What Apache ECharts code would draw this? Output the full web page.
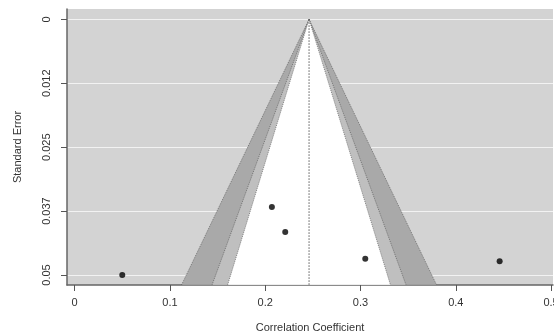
<!DOCTYPE html>
<html>
<head>
<meta charset="utf-8">
<script src="https://cdn.jsdelivr.net/npm/echarts@6/dist/echarts.min.js"></script>
<style>
  html, body { margin: 0; padding: 0; background: #fff; }
  #fig_funnel { width: 554px; height: 334px; }
</style>
</head>
<body>
<div id="fig_funnel"></div>
<script>
// study effect sizes (correlation) and their standard errors
var rValues  = [0.050, 0.207, 0.221, 0.305, 0.446];
var seValues = [0.0500, 0.0367, 0.0416, 0.0468, 0.0473];

// pooled estimate and funnel bottom
var estimate = 0.246;
var seMax = 0.0519;

// contour levels: 99%, 95%, 90% (outer first)
var zLevels = [2.576, 1.96, 1.645];
var shades = ['#a9a9a9', '#bfbfbf', '#ffffff'];

// tick values and labels
var xTicks = [0, 0.1, 0.2, 0.3, 0.4, 0.5];
var yTicks = [0, 0.0125, 0.025, 0.0375, 0.05];
var yTickLabels = ['0', '0.012', '0.025', '0.037', '0.05'];

var fig_funnel = {
    plot_id: 'fig_funnel',
    plot_chart: null,

    render_funnel: function(params, api) {
        var z = api.value(0);
        var idx = api.value(1);
        var top = api.coord([estimate, 0]);
        var bl = api.coord([estimate - z * seMax, seMax]);
        var br = api.coord([estimate + z * seMax, seMax]);
        var edge = {
            stroke: '#4a4a4a',
            lineWidth: 0.6,
            lineDash: [1, 1],
            fill: null
        };
        return {
            type: 'group',
            children: [
                {
                    type: 'polygon',
                    shape: { points: [top, bl, br] },
                    style: { fill: shades[idx], stroke: null }
                },
                { type: 'polyline', shape: { points: [bl, top] }, style: edge },
                { type: 'polyline', shape: { points: [top, br] }, style: edge }
            ]
        };
    },

    render_center: function(params, api) {
        var a = api.coord([estimate, 0]);
        var b = api.coord([estimate, seMax]);
        return {
            type: 'line',
            shape: { x1: a[0], y1: a[1], x2: b[0], y2: b[1] },
            style: { stroke: '#111', lineWidth: 0.7, lineDash: [1.5, 1.5] }
        };
    },

    init: function() {
        var font = '"Liberation Sans", Arial, sans-serif';
        this.option = {
            animation: false,
            grid: {
                left: 67,
                top: 9,
                width: 486,
                height: 276,
                outerBoundsMode: 'none',
                containLabel: false,
                show: true,
                backgroundColor: '#d3d3d3',
                borderWidth: 0
            },
            xAxis: {
                type: 'value',
                min: -0.008,
                max: 0.502,
                name: 'Correlation Coefficient',
                nameLocation: 'middle',
                nameGap: 37,
                nameTextStyle: { fontFamily: font, fontSize: 11, color: '#333' },
                axisLine: { show: true, onZero: false, lineStyle: { color: '#666', width: 1.5 } },
                axisTick: { show: true, length: 6, customValues: xTicks, lineStyle: { color: '#555' } },
                axisLabel: {
                    customValues: xTicks,
                    margin: 12,
                    fontFamily: font,
                    fontSize: 11,
                    color: '#333',
                    formatter: function(v) { return String(v); }
                },
                splitLine: { show: false }
            },
            yAxis: {
                type: 'value',
                inverse: true,
                min: -0.00202,
                max: 0.05195,
                name: 'Standard Error',
                nameLocation: 'middle',
                nameGap: 44,
                nameTextStyle: { fontFamily: font, fontSize: 11, color: '#333' },
                axisLine: { show: true, onZero: false, lineStyle: { color: '#666', width: 1.5 } },
                axisTick: { show: true, length: 6, customValues: yTicks, lineStyle: { color: '#555' } },
                axisLabel: {
                    customValues: yTicks,
                    rotate: 90,
                    margin: 15,
                    fontFamily: font,
                    fontSize: 11,
                    color: '#333',
                    formatter: function(v) {
                        var i = yTicks.indexOf(v);
                        return i >= 0 ? yTickLabels[i] : '';
                    }
                },
                splitLine: { show: true, lineStyle: { color: '#f2f2f2', width: 1 } }
            },
            series: [
                {
                    type: 'custom',
                    renderItem: this.render_funnel,
                    data: zLevels.map(function(z, i) { return [z, i]; }),
                    z: 1
                },
                {
                    type: 'custom',
                    renderItem: this.render_center,
                    data: [[estimate, 0]],
                    z: 2
                },
                {
                    type: 'scatter',
                    symbol: 'circle',
                    symbolSize: 6,
                    itemStyle: { color: '#000' },
                    data: rValues.map(function(r, i) { return [r, seValues[i]]; }),
                    z: 3
                }
            ]
        };
        this.plot_chart = echarts.init(document.getElementById(this.plot_id));
        this.plot_chart.setOption(this.option);
    }
};

fig_funnel.init();
</script>
</body>
</html>
